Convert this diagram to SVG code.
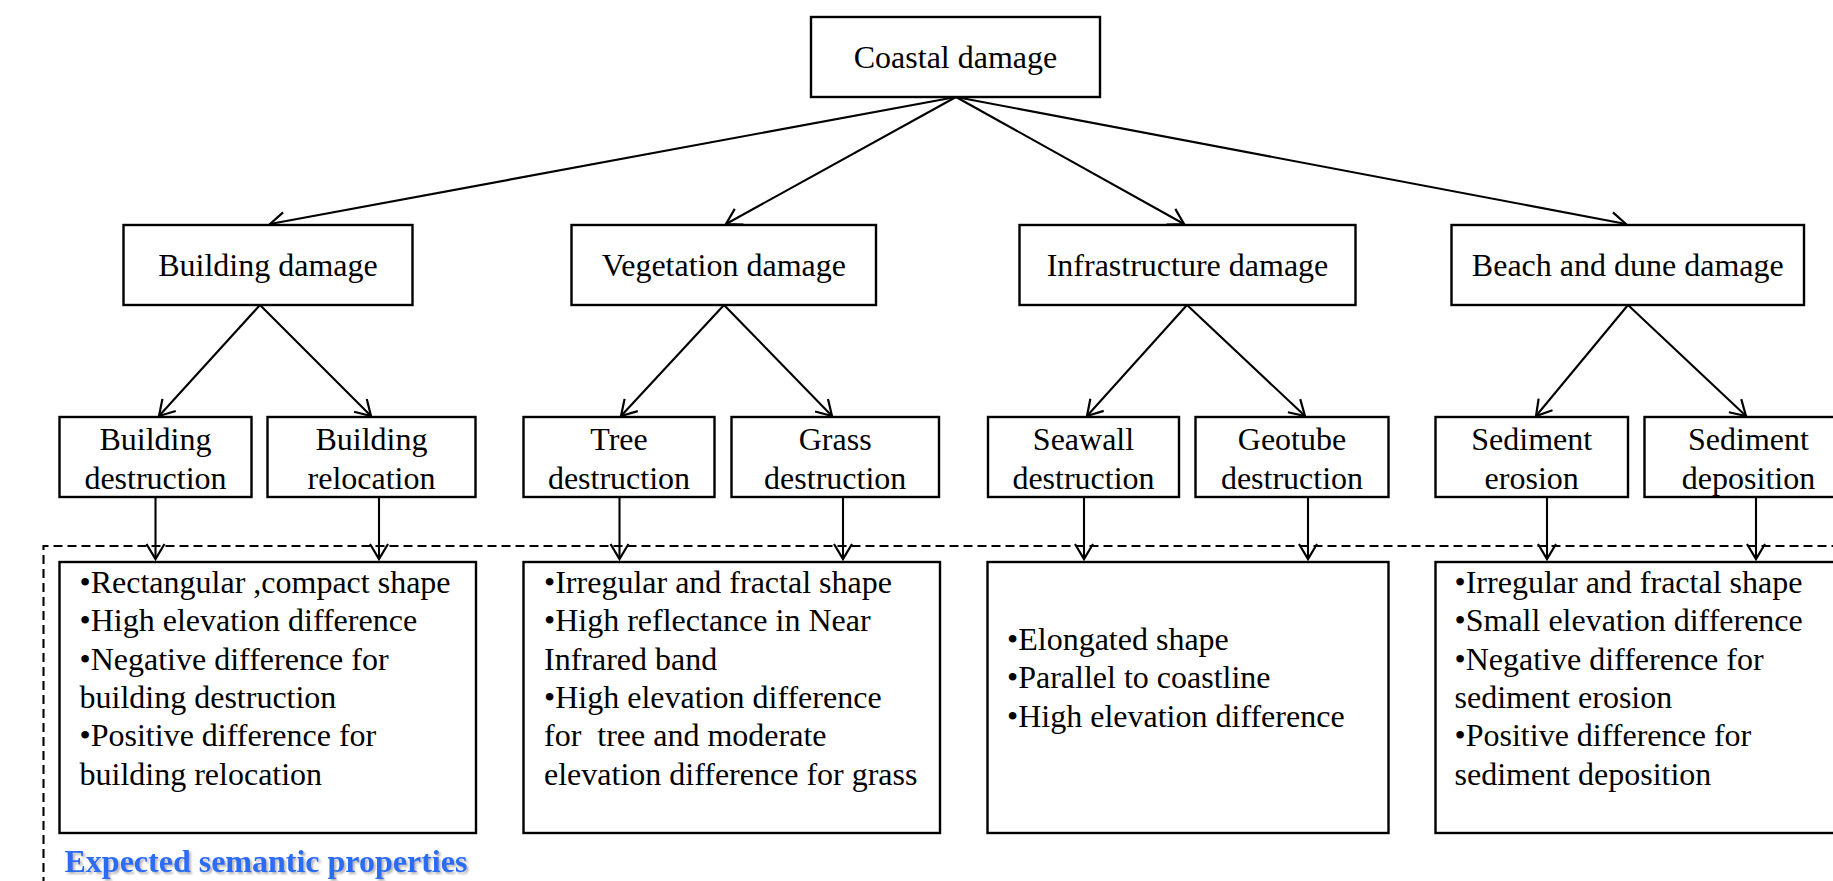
<svg xmlns="http://www.w3.org/2000/svg" width="1833" height="881" viewBox="0 0 1833 881">
<style>
  .box { fill: #ffffff; stroke: #000000; stroke-width: 2.4; }
  .t { font-family: "Liberation Serif", "Times New Roman", serif; font-size: 32px; fill: #000000; }
  .c { text-anchor: middle; }
  .conn line { stroke: #000000; stroke-width: 2.1; marker-end: url(#arr); }
  .dash { fill: none; stroke: #000000; stroke-width: 2.1; stroke-dasharray: 9 5; }
  .lbl { font-family: "Liberation Serif", "Times New Roman", serif; font-size: 32px; font-weight: bold; fill: #2a6cf6; }
</style>
<defs>
  <marker id="arr" markerUnits="userSpaceOnUse" markerWidth="22" markerHeight="22" viewBox="0 0 22 22" refX="19" refY="11" orient="auto">
    <path d="M4,2 L19,11 L4,20" fill="none" stroke="#000000" stroke-width="2.2"/>
  </marker>
  <filter id="sh" x="-5%" y="-30%" width="110%" height="160%">
    <feDropShadow dx="2" dy="2" stdDeviation="1" flood-color="#808080" flood-opacity="0.6"/>
  </filter>
</defs>
<rect width="1833" height="881" fill="#ffffff"/>

<path class="dash" d="M43.5,900 V546 H1850"/>

<g id="connectors" class="conn">
  <line x1="956" y1="97" x2="270" y2="224"/>
  <line x1="956" y1="97" x2="726" y2="224"/>
  <line x1="956" y1="97" x2="1184" y2="224"/>
  <line x1="956" y1="97" x2="1626" y2="224"/>
  <line x1="260" y1="305" x2="159" y2="416"/>
  <line x1="260" y1="305" x2="371" y2="416"/>
  <line x1="724" y1="305" x2="621" y2="416"/>
  <line x1="724" y1="305" x2="832" y2="416"/>
  <line x1="1187" y1="305" x2="1087" y2="416"/>
  <line x1="1187" y1="305" x2="1305" y2="416"/>
  <line x1="1628" y1="305" x2="1536" y2="416"/>
  <line x1="1628" y1="305" x2="1746" y2="416"/>
  <line x1="155.5" y1="497" x2="155.5" y2="559"/>
  <line x1="379" y1="497" x2="379" y2="559"/>
  <line x1="619.5" y1="497" x2="619.5" y2="559"/>
  <line x1="843" y1="497" x2="843" y2="559"/>
  <line x1="1084" y1="497" x2="1084" y2="559"/>
  <line x1="1308" y1="497" x2="1308" y2="559"/>
  <line x1="1547" y1="497" x2="1547" y2="559"/>
  <line x1="1756" y1="497" x2="1756" y2="559"/>
</g>

<g id="coastal">
  <rect class="box" x="811" y="17" width="289" height="80"/>
  <text class="t c" x="955.5" y="68">Coastal damage</text>
</g>

<g id="building-damage">
  <rect class="box" x="123.5" y="225" width="289" height="80"/>
  <text class="t c" x="268" y="276">Building damage</text>
</g>
<g id="vegetation-damage">
  <rect class="box" x="571.5" y="225" width="304.5" height="80"/>
  <text class="t c" x="723.8" y="276">Vegetation damage</text>
</g>
<g id="infrastructure-damage">
  <rect class="box" x="1019.5" y="225" width="336" height="80"/>
  <text class="t c" x="1187.5" y="276">Infrastructure damage</text>
</g>
<g id="beach-damage">
  <rect class="box" x="1451.5" y="225" width="352.5" height="80"/>
  <text class="t c" x="1627.8" y="276">Beach and dune damage</text>
</g>

<g id="building-destruction">
  <rect class="box" x="59.5" y="417" width="192" height="80"/>
  <text class="t c" x="155.5" y="450">Building</text>
  <text class="t c" x="155.5" y="488.5">destruction</text>
</g>
<g id="building-relocation">
  <rect class="box" x="267.5" y="417" width="208" height="80"/>
  <text class="t c" x="371.5" y="450">Building</text>
  <text class="t c" x="371.5" y="488.5">relocation</text>
</g>
<g id="tree-destruction">
  <rect class="box" x="523.5" y="417" width="191" height="80"/>
  <text class="t c" x="619" y="450">Tree</text>
  <text class="t c" x="619" y="488.5">destruction</text>
</g>
<g id="grass-destruction">
  <rect class="box" x="731.5" y="417" width="207.5" height="80"/>
  <text class="t c" x="835.2" y="450">Grass</text>
  <text class="t c" x="835.2" y="488.5">destruction</text>
</g>
<g id="seawall-destruction">
  <rect class="box" x="988" y="417" width="191" height="80"/>
  <text class="t c" x="1083.5" y="450">Seawall</text>
  <text class="t c" x="1083.5" y="488.5">destruction</text>
</g>
<g id="geotube-destruction">
  <rect class="box" x="1195.5" y="417" width="193" height="80"/>
  <text class="t c" x="1292" y="450">Geotube</text>
  <text class="t c" x="1292" y="488.5">destruction</text>
</g>
<g id="sediment-erosion">
  <rect class="box" x="1435.5" y="417" width="192.5" height="80"/>
  <text class="t c" x="1531.7" y="450">Sediment</text>
  <text class="t c" x="1531.7" y="488.5">erosion</text>
</g>
<g id="sediment-deposition">
  <rect class="box" x="1644.5" y="417" width="208" height="80"/>
  <text class="t c" x="1748.5" y="450">Sediment</text>
  <text class="t c" x="1748.5" y="488.5">deposition</text>
</g>

<g id="props-building">
  <rect class="box" x="59.5" y="562" width="416.5" height="271"/>
  <text class="t" x="79.5" y="593">•Rectangular ,compact shape</text>
  <text class="t" x="79.5" y="631.3">•High elevation difference</text>
  <text class="t" x="79.5" y="669.6">•Negative difference for</text>
  <text class="t" x="79.5" y="707.9">building destruction</text>
  <text class="t" x="79.5" y="746.2">•Positive difference for</text>
  <text class="t" x="79.5" y="784.5">building relocation</text>
</g>
<g id="props-vegetation">
  <rect class="box" x="523.5" y="562" width="416.5" height="271"/>
  <text class="t" x="544" y="593">•Irregular and fractal shape</text>
  <text class="t" x="544" y="631.3">•High reflectance in Near</text>
  <text class="t" x="544" y="669.6">Infrared band</text>
  <text class="t" x="544" y="707.9">•High elevation difference</text>
  <text class="t" x="544" y="746.2" xml:space="preserve" style="white-space:pre">for  tree and moderate</text>
  <text class="t" x="544" y="784.5">elevation difference for grass</text>
</g>
<g id="props-infrastructure">
  <rect class="box" x="987.5" y="562" width="401" height="271"/>
  <text class="t" x="1007" y="650">•Elongated shape</text>
  <text class="t" x="1007" y="688.3">•Parallel to coastline</text>
  <text class="t" x="1007" y="726.6">•High elevation difference</text>
</g>
<g id="props-beach">
  <rect class="box" x="1435.5" y="562" width="417" height="271"/>
  <text class="t" x="1454.5" y="593">•Irregular and fractal shape</text>
  <text class="t" x="1454.5" y="631.3">•Small elevation difference</text>
  <text class="t" x="1454.5" y="669.6">•Negative difference for</text>
  <text class="t" x="1454.5" y="707.9">sediment erosion</text>
  <text class="t" x="1454.5" y="746.2">•Positive difference for</text>
  <text class="t" x="1454.5" y="784.5">sediment deposition</text>
</g>

<g id="legend">
  <text class="lbl" x="64.5" y="872" filter="url(#sh)">Expected semantic properties</text>
</g>
</svg>
